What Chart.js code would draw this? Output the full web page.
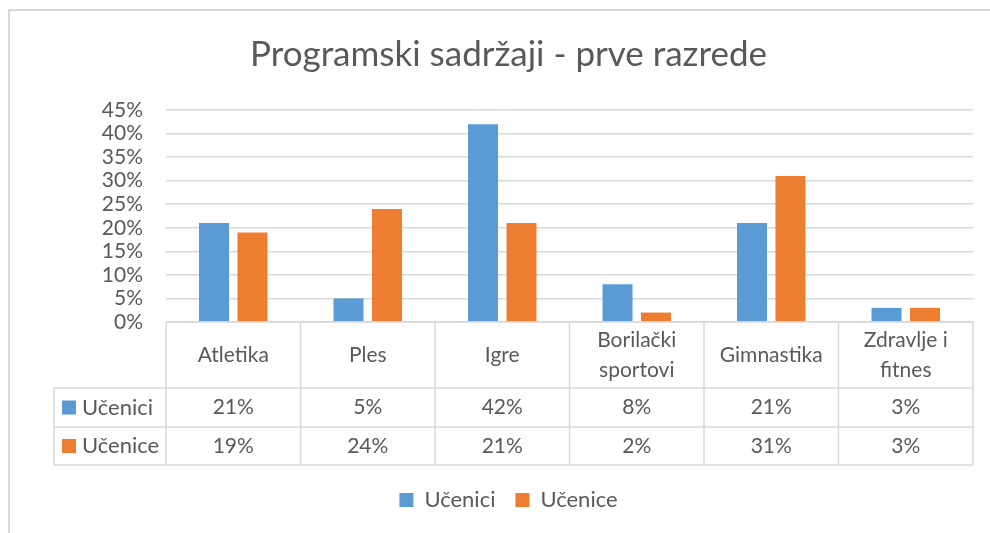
<!DOCTYPE html>
<html>
<head>
<meta charset="utf-8">
<script src="https://cdn.jsdelivr.net/npm/chart.js@4.4.1/dist/chart.umd.min.js"></script>
<style>
  html, body { margin: 0; padding: 0; background: #fff; }
  #wrap { width: 990px; height: 533px; }
</style>
</head>
<body>
<div id="wrap"><canvas id="chart" width="990" height="533"></canvas></div>
<script>
// data
const categories = ['Atletika', 'Ples', 'Igre', ['Borilački', 'sportovi'], 'Gimnastika', ['Zdravlje i', 'fitnes']];
const ucenici = [21, 5, 42, 8, 21, 3];
const ucenice = [19, 24, 21, 2, 31, 3];
const seriesNames = ['Učenici', 'Učenice'];
const yTicks = [0, 5, 10, 15, 20, 25, 30, 35, 40, 45];

const BLUE = '#5B9BD5';
const ORANGE = '#ED7D31';
const TXT = '#595959';
const LINE = '#d9d9d9';
const FONT = 'Lato, "Open Sans", sans-serif';

// outer frame like the excel chart border
const framePlugin = {
  id: 'frame',
  afterDraw(chart) {
    const ctx = chart.ctx;
    ctx.save();
    ctx.strokeStyle = LINE;
    ctx.lineWidth = 2;
    ctx.beginPath();
    ctx.moveTo(9, 533);
    ctx.lineTo(9, 10);
    ctx.lineTo(990, 10);
    ctx.stroke();
    ctx.restore();
  }
};

// data table under the plot area
const tablePlugin = {
  id: 'dataTable',
  afterDraw(chart) {
    const ctx = chart.ctx;
    const x = chart.scales.x;
    const area = chart.chartArea;
    const top = area.bottom;
    const rowH = [66, 39, 38];
    const y1 = top + rowH[0], y2 = y1 + rowH[1], y3 = y2 + rowH[2];
    const legendLeft = 54;
    const half = (area.right - area.left) / categories.length / 2;

    ctx.save();
    ctx.strokeStyle = LINE;
    ctx.lineWidth = 1.5;
    ctx.beginPath();
    // horizontal lines
    ctx.moveTo(area.left, top); ctx.lineTo(area.right, top);
    ctx.moveTo(legendLeft, y1); ctx.lineTo(area.right, y1);
    ctx.moveTo(legendLeft, y2); ctx.lineTo(area.right, y2);
    ctx.moveTo(legendLeft, y3); ctx.lineTo(area.right, y3);
    // vertical lines
    ctx.moveTo(legendLeft, y1); ctx.lineTo(legendLeft, y3);
    categories.forEach((c, i) => {
      const cx = x.getPixelForValue(i);
      ctx.moveTo(cx - half, top); ctx.lineTo(cx - half, y3);
    });
    ctx.moveTo(area.right, top); ctx.lineTo(area.right, y3);
    ctx.stroke();

    ctx.fillStyle = TXT;
    ctx.font = '21px ' + FONT;
    ctx.textAlign = 'center';
    ctx.textBaseline = 'middle';
    const hMid = top + rowH[0] / 2;
    categories.forEach((c, i) => {
      const cx = x.getPixelForValue(i);
      if (Array.isArray(c)) {
        ctx.fillText(c[0], cx, hMid - 15);
        ctx.fillText(c[1], cx, hMid + 15);
      } else {
        ctx.fillText(c, cx, hMid);
      }
      ctx.fillText(ucenici[i] + '%', cx, (y1 + y2) / 2);
      ctx.fillText(ucenice[i] + '%', cx, (y2 + y3) / 2);
    });

    // series keys in the first column
    [[BLUE, seriesNames[0], (y1 + y2) / 2], [ORANGE, seriesNames[1], (y2 + y3) / 2]].forEach(([col, name, my]) => {
      ctx.fillStyle = col;
      ctx.fillRect(62, my - 7, 14, 14);
      ctx.fillStyle = TXT;
      ctx.textAlign = 'left';
      ctx.font = '22px ' + FONT;
      ctx.fillText(name, 82, my);
    });
    ctx.restore();
  }
};

new Chart(document.getElementById('chart'), {
  type: 'bar',
  data: {
    labels: categories,
    datasets: [
      { label: seriesNames[0], data: ucenici, backgroundColor: BLUE, barPercentage: 0.78, categoryPercentage: 0.572 },
      { label: seriesNames[1], data: ucenice, backgroundColor: ORANGE, barPercentage: 0.78, categoryPercentage: 0.572 }
    ]
  },
  options: {
    responsive: false,
    animation: false,
    layout: { padding: { left: 44, right: 17, top: 0, bottom: 12 } },
    plugins: {
      title: {
        display: true,
        text: 'Programski sadržaji - prve razrede',
        color: TXT,
        font: { family: FONT, size: 35, weight: 'normal' },
        padding: { top: 34, bottom: 34 }
      },
      legend: {
        position: 'bottom',
        labels: {
          color: TXT,
          font: { family: FONT, size: 22 },
          boxWidth: 14,
          boxHeight: 14,
          padding: 20
        }
      },
      tooltip: { enabled: false }
    },
    scales: {
      x: {
        ticks: { display: false },
        grid: { display: false },
        border: { display: false },
        afterFit: s => { s.height = 147; }
      },
      y: {
        min: 0,
        max: 45,
        afterBuildTicks: s => { s.ticks = yTicks.map(v => ({ value: v })); },
        afterFit: s => { s.width = 122; },
        ticks: {
          color: TXT,
          font: { family: FONT, size: 21 },
          padding: 23,
          autoSkip: false,
          callback: v => v + '%'
        },
        grid: { color: LINE, lineWidth: 1.5, drawTicks: false },
        border: { display: false }
      }
    }
  },
  plugins: [framePlugin, tablePlugin]
});
</script>
</body>
</html>
